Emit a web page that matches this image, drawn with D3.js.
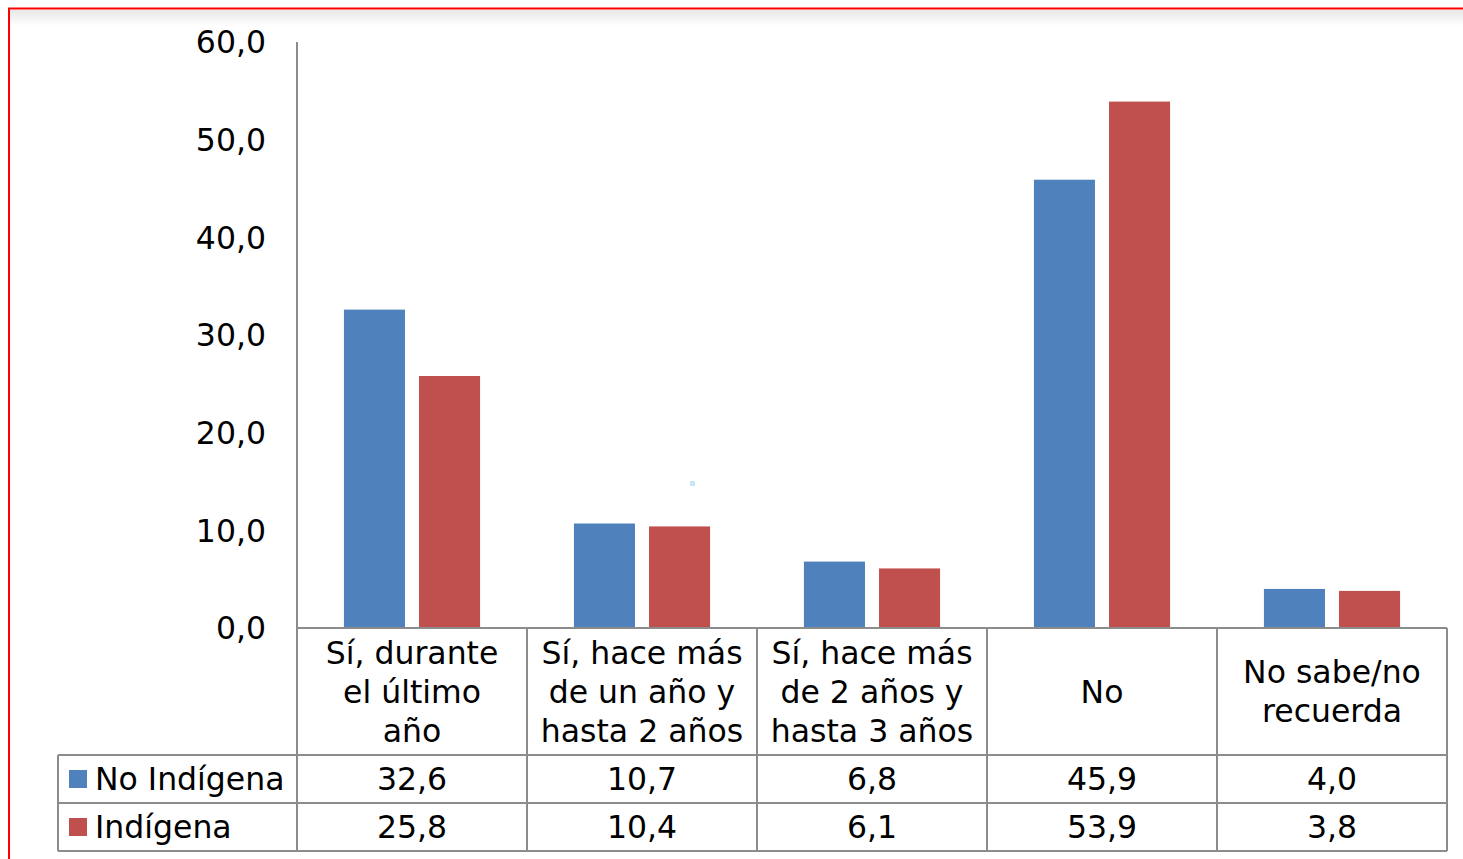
<!DOCTYPE html>
<html>
<head>
<meta charset="utf-8">
<script src="https://cdn.jsdelivr.net/npm/d3@7"></script>
<style>
  html, body { margin: 0; padding: 0; background: #fff; }
  text { font-family: "DejaVu Sans", Verdana, sans-serif; fill: #000; }
</style>
</head>
<body>
<div id="chart"></div>
<script>
var width = 1463, height = 859;

var categories = [
  ["Sí, durante", "el último", "año"],
  ["Sí, hace más", "de un año y", "hasta 2 años"],
  ["Sí, hace más", "de 2 años y", "hasta 3 años"],
  ["No"],
  ["No sabe/no", "recuerda"]
];
var series = ["No Indígena", "Indígena"];
var noIndigena = [32.6, 10.7, 6.8, 45.9, 4.0];
var indigena = [25.8, 10.4, 6.1, 53.9, 3.8];
var colors = ["#4F81BD", "#C0504D"];
var yTicks = [0, 10, 20, 30, 40, 50, 60];

var values = [noIndigena, indigena];
var fmt = v => d3.format(".1f")(v).replace(".", ",");

// plot geometry
var plotLeft = 297, plotRight = 1447, plotTop = 42, base = 628;
var rowTop = 755, rowH = 48, legendLeft = 58;
var grid = "#8c8c8c";
var fs = 31.5;

var svg = d3.select("#chart").append("svg")
    .attr("width", width)
    .attr("height", height);

// faint shadow under the frame's top edge
var defs = svg.append("defs");
var grad = defs.append("linearGradient").attr("id", "shade")
    .attr("x1", 0).attr("y1", 0).attr("x2", 0).attr("y2", 1);
grad.append("stop").attr("offset", 0).attr("stop-color", "#e8e8e8");
grad.append("stop").attr("offset", 1).attr("stop-color", "#ffffff");
svg.append("rect").attr("x", 10).attr("y", 10).attr("width", width).attr("height", 16)
    .attr("fill", "url(#shade)");

// red frame
svg.append("path")
    .attr("d", `M9,${height + 5} V8.5 H${width + 5}`)
    .attr("fill", "none").attr("stroke", "#ff0000").attr("stroke-width", 2);

var x0 = d3.scaleBand().domain(d3.range(categories.length)).range([plotLeft, plotRight]);
var x1 = d3.scaleBand().domain(d3.range(series.length))
    .range([x0.bandwidth() * 0.204, x0.bandwidth() * 0.796])
    .paddingInner(0.187);
var y = d3.scaleLinear().domain([0, 60]).range([base, plotTop]);

// y axis labels
svg.append("g")
  .selectAll("text")
  .data(yTicks)
  .join("text")
    .attr("x", 266)
    .attr("y", d => y(d))
    .attr("dy", "0.36em")
    .attr("text-anchor", "end")
    .attr("font-size", fs)
    .text(d => fmt(d));

// bars
svg.append("g")
  .selectAll("g")
  .data(values)
  .join("g")
    .attr("fill", (d, i) => colors[i])
  .selectAll("rect")
  .data((d, i) => d.map((v, j) => ({v, j, i})))
  .join("rect")
    .attr("x", d => x0(d.j) + x1(d.i))
    .attr("y", d => y(d.v))
    .attr("width", x1.bandwidth())
    .attr("height", d => base - y(d.v));

// stray light dot present in the source image
svg.append("rect").attr("x", 690).attr("y", 481).attr("width", 5).attr("height", 5).attr("fill", "#c6e8f5");

// table grid
var g = svg.append("g").attr("stroke", grid).attr("stroke-width", 2).attr("fill", "none");
g.append("line").attr("x1", plotLeft).attr("x2", plotLeft).attr("y1", plotTop).attr("y2", rowTop + 2 * rowH);
g.append("line").attr("x1", plotLeft).attr("x2", plotRight).attr("y1", base).attr("y2", base);
[rowTop, rowTop + rowH, rowTop + 2 * rowH].forEach(yy =>
  g.append("line").attr("x1", legendLeft).attr("x2", plotRight).attr("y1", yy).attr("y2", yy));
g.append("line").attr("x1", legendLeft).attr("x2", legendLeft).attr("y1", rowTop).attr("y2", rowTop + 2 * rowH);
d3.range(1, categories.length + 1).forEach(i => {
  var xx = i < categories.length ? x0(i) : plotRight;
  g.append("line").attr("x1", xx).attr("x2", xx).attr("y1", base).attr("y2", rowTop + 2 * rowH);
});

// category labels
var lineH = 39;
svg.append("g")
  .selectAll("text")
  .data(categories)
  .join("text")
    .attr("text-anchor", "middle")
    .attr("font-size", fs)
    .attr("x", (d, i) => x0(i) + x0.bandwidth() / 2)
    .attr("y", d => (base + rowTop) / 2 - (d.length - 1) * lineH / 2)
  .selectAll("tspan")
  .data(d => d)
  .join("tspan")
    .attr("x", function() { return this.parentNode.getAttribute("x"); })
    .attr("dy", (d, i) => i === 0 ? "0.36em" : lineH)
    .text(d => d);

// legend / data rows
series.forEach((s, i) => {
  var cy = rowTop + rowH * i + rowH / 2;
  svg.append("rect")
      .attr("x", 69).attr("y", cy - 9)
      .attr("width", 18).attr("height", 18)
      .attr("fill", colors[i]);
  svg.append("text")
      .attr("x", 95).attr("y", cy).attr("dy", "0.36em")
      .attr("font-size", fs)
      .text(s);
  svg.append("g")
    .selectAll("text")
    .data(values[i])
    .join("text")
      .attr("x", (d, j) => x0(j) + x0.bandwidth() / 2)
      .attr("y", cy).attr("dy", "0.36em")
      .attr("text-anchor", "middle")
      .attr("font-size", fs)
      .text(d => fmt(d));
});
</script>
</body>
</html>
